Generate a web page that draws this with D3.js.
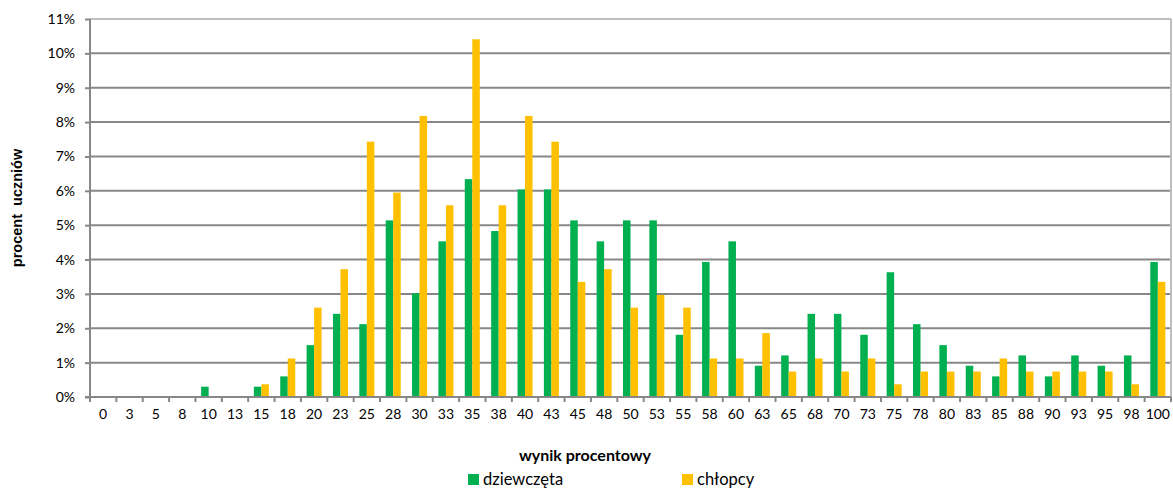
<!DOCTYPE html>
<html><head><meta charset="utf-8">
<script src="https://cdn.jsdelivr.net/npm/d3@7"></script>
<style>
body{margin:0;background:#fff;}
svg{display:block;}
</style></head>
<body><svg id="chart" width="1173" height="490"></svg>
<script>
const categories = ["0","3","5","8","10","13","15","18","20","23","25","28","30","33","35","38","40","43","45","48","50","53","55","58","60","63","65","68","70","73","75","78","80","83","85","88","90","93","95","98","100"];
const girls = [0,0,0,0,0.30,0,0.30,0.60,1.51,2.42,2.12,5.14,3.02,4.53,6.34,4.83,6.04,6.04,5.14,4.53,5.14,5.14,1.81,3.93,4.53,0.91,1.21,2.42,2.42,1.81,3.63,2.12,1.51,0.91,0.60,1.21,0.60,1.21,0.91,1.21,3.93];
const boys = [0,0,0,0,0,0,0.37,1.12,2.60,3.72,7.43,5.95,8.18,5.58,10.41,5.58,8.18,7.43,3.35,3.72,2.60,2.97,2.60,1.12,1.12,1.86,0.74,1.12,0.74,1.12,0.37,0.74,0.74,0.74,1.12,0.74,0.74,0.74,0.74,0.37,3.35];
const seriesNames = ["dziewczęta","chłopcy"];
const colors = ["#00B050","#FFC000"];
const yTicks = [0,1,2,3,4,5,6,7,8,9,10,11];

const svg = d3.select("#chart");
const m = {left:90, right:1171, top:19, bottom:397};
const font = "Lato, 'Open Sans', sans-serif";

const x = d3.scaleBand().domain(categories).range([m.left, m.right]).paddingInner(0).paddingOuter(0);
const y = d3.scaleLinear().domain([0,11]).range([m.bottom, m.top]);
const bw = x.bandwidth();
const barW = bw*0.285;
const x1 = d3.scaleBand().domain(seriesNames).range([0, barW*2]);
const offset = (bw - barW*2)/2;

// gridlines
svg.append("g").selectAll("line").data(yTicks.filter(t=>t>0 && t<11)).join("line")
  .attr("x1", m.left).attr("x2", m.right)
  .attr("y1", d=>y(d)).attr("y2", d=>y(d))
  .attr("stroke","#878787").attr("stroke-width",2);
// plot border top/right
svg.append("line").attr("x1",m.left).attr("x2",m.right).attr("y1",y(11)).attr("y2",y(11)).attr("stroke","#BEBEBE").attr("stroke-width",2);
svg.append("line").attr("x1",m.right).attr("x2",m.right).attr("y1",y(11)).attr("y2",m.bottom).attr("stroke","#BEBEBE").attr("stroke-width",2);

// bars
const data = categories.map((c,i)=>({c, vals:[girls[i], boys[i]]}));
const groups = svg.append("g").selectAll("g").data(data).join("g")
  .attr("transform", d=>`translate(${x(d.c)+offset},0)`);
groups.selectAll("rect").data(d=>d.vals.map((v,j)=>({v, s:seriesNames[j], col:colors[j]})))
  .join("rect")
  .attr("x", d=>x1(d.s)).attr("width", x1.bandwidth())
  .attr("y", d=>y(d.v)).attr("height", d=>y(0)-y(d.v))
  .attr("fill", d=>d.col);

// y axis
const yAxis = d3.axisLeft(y).tickValues(yTicks).tickFormat(d=>d+"%").tickSize(5).tickPadding(10);
const ya = svg.append("g").attr("transform",`translate(${m.left},0)`).call(yAxis);
ya.select(".domain").attr("stroke","#878787").attr("stroke-width",2).attr("d",`M0,${m.top}V${m.bottom}`);
ya.selectAll(".tick line").attr("stroke","#878787").attr("stroke-width",2);
ya.selectAll("text").attr("font-family",font).attr("font-size",14).attr("fill","#000");

// x axis
const xAxis = d3.axisBottom(x).tickSize(0).tickPadding(12);
const xa = svg.append("g").attr("transform",`translate(0,${m.bottom})`).call(xAxis);
xa.select(".domain").attr("stroke","#878787").attr("stroke-width",2).attr("d",`M${m.left-5},0H${m.right}`);
xa.selectAll("text").attr("font-family",font).attr("font-size",14).attr("fill","#000");
// tick marks at band boundaries
const bounds = categories.slice(1).map(c=>x(c)).concat([m.right]);
xa.append("g").selectAll("line").data(bounds).join("line")
  .attr("x1",d=>d).attr("x2",d=>d).attr("y1",0).attr("y2",5)
  .attr("stroke","#878787").attr("stroke-width",2);
xa.append("line").attr("x1",m.left).attr("x2",m.left).attr("y1",0).attr("y2",5).attr("stroke","#878787").attr("stroke-width",2);

// axis titles
svg.append("text").attr("x",585).attr("y",461).attr("text-anchor","middle")
  .attr("font-family",font).attr("font-weight","bold").attr("font-size",16).text("wynik procentowy");
svg.append("text").attr("transform",`translate(22,${(m.top+m.bottom)/2}) rotate(-90)`).attr("text-anchor","middle")
  .attr("font-family","'Liberation Sans', Arial, sans-serif").attr("font-weight","bold").attr("font-size",14.5)
  .attr("xml:space","preserve").text("procent  uczniów");

// legend
const legX = [468, 682];
const leg = svg.append("g").selectAll("g").data(seriesNames).join("g")
  .attr("transform",(d,i)=>`translate(${legX[i]},474)`);
leg.append("rect").attr("width",11).attr("height",11).attr("fill",(d,i)=>colors[i]);
leg.append("text").attr("x",15).attr("y",11).attr("font-family",font).attr("font-size",16.5).attr("fill","#000").text(d=>d);
</script></body></html>
